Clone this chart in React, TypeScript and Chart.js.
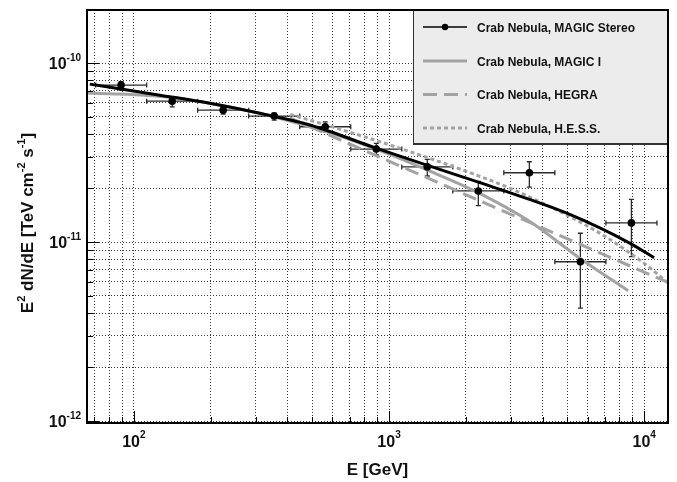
import { useEffect, useRef } from 'react';
import { Chart, registerables } from 'chart.js';

Chart.register(...registerables);

// ---- MAGIC Stereo spectral points (E in GeV, E^2 dN/dE in TeV cm^-2 s^-1)
const stereoE = [89.1, 141.3, 223.9, 354.8, 562.3, 891.3, 1412.5, 2238.7, 3548.1, 5623.4, 8912.5];
const stereoELow = [70.8, 112.2, 177.8, 281.8, 446.7, 707.9, 1122, 1778, 2818, 4467, 7079];
const stereoEHigh = [112.2, 177.8, 281.8, 446.7, 707.9, 1122, 1778, 2818, 4467, 7079, 11220];
const stereoFlux = [7.54e-11, 6.13e-11, 5.46e-11, 5.06e-11, 4.41e-11, 3.31e-11, 2.63e-11, 1.93e-11, 2.44e-11, 7.76e-12, 1.28e-11];
const stereoFluxLow = [7.06e-11, 5.7e-11, 5.19e-11, 4.8e-11, 4.13e-11, 3.08e-11, 2.34e-11, 1.6e-11, 2.03e-11, 4.27e-12, 8.3e-12];
const stereoFluxHigh = [7.87e-11, 6.43e-11, 5.7e-11, 5.27e-11, 4.7e-11, 3.56e-11, 2.9e-11, 2.18e-11, 2.81e-11, 1.12e-11, 1.73e-11];

// ---- Fitted spectra
const stereoFitE = [67.2, 126.5, 198.7, 312, 490, 895, 1406, 2723, 4977, 8810, 10940];
const stereoFitF = [7.63e-11, 6.62e-11, 5.96e-11, 5.24e-11, 4.51e-11, 3.34e-11, 2.69e-11, 1.97e-11, 1.45e-11, 9.84e-12, 8.17e-12];

const magicIE = [65.5, 93.9, 138.4, 217.4, 341, 587, 922, 1409, 2234, 3573, 5610, 8650];
const magicIF = [6.8e-11, 6.7e-11, 6.44e-11, 5.82e-11, 5.08e-11, 4.08e-11, 3.24e-11, 2.53e-11, 1.89e-11, 1.3e-11, 8.1e-12, 5.35e-12];

const hegraE = [409, 1000, 3000, 12400];
const hegraF = [4.94e-11, 2.83e-11, 1.43e-11, 5.95e-12];

const hessE = [410, 600, 1000, 2000, 3000, 5000, 7000, 10000, 12400];
const hessF = [5.17e-11, 4.4e-11, 3.5e-11, 2.49e-11, 1.99e-11, 1.41e-11, 1.08e-11, 7.6e-12, 5.92e-12];

// ---- Axes
const xRange = [65.5, 12400];
const yRange = [0.975e-12, 1.98e-10];
const xMajorTicks = [100, 1000, 10000];
const xMajorExp = ['2', '3', '4'];
const yMajorTicks = [1e-12, 1e-11, 1e-10];
const yMajorExp = ['-12', '-11', '-10'];
const minorFactors = [1, 2, 3, 4, 5, 6, 7, 8, 9];

const legendLabels = ['Crab Nebula, MAGIC Stereo', 'Crab Nebula, MAGIC I', 'Crab Nebula, HEGRA', 'Crab Nebula, H.E.S.S.'];

const FONT = '"Liberation Sans", Arial, Helvetica, sans-serif';
const GRAY = '#a3a3a3';

function logTicks(min: number, max: number) {
  const out: { value: number; major: boolean }[] = [];
  const d0 = Math.floor(Math.log10(min));
  const d1 = Math.ceil(Math.log10(max));
  for (let d = d0; d <= d1; d++) {
    for (const f of minorFactors) {
      const v = Number((f * Math.pow(10, d)).toPrecision(6));
      if (v >= min && v <= max) out.push({ value: v, major: f === 1 });
    }
  }
  return out;
}

function supText(ctx: CanvasRenderingContext2D, parts: [string, boolean][], big: number, small: number) {
  let w = 0;
  for (const [t, sup] of parts) {
    ctx.font = `bold ${sup ? small : big}px ${FONT}`;
    w += ctx.measureText(t).width;
  }
  return w;
}

function drawSup(ctx: CanvasRenderingContext2D, parts: [string, boolean][], x: number, y: number, big: number, small: number, raise: number) {
  let cx = x;
  for (const [t, sup] of parts) {
    ctx.font = `bold ${sup ? small : big}px ${FONT}`;
    ctx.fillText(t, cx, sup ? y - raise : y);
    cx += ctx.measureText(t).width;
  }
}

const rootPlugin = {
  id: 'rootStyle',
  beforeDatasetsDraw(chart: any) {
    const ctx: CanvasRenderingContext2D = chart.ctx;
    const xs = chart.scales.x;
    const ys = chart.scales.y;
    const a = chart.chartArea;
    ctx.save();
    ctx.beginPath();
    ctx.rect(a.left, a.top, a.right - a.left, a.bottom - a.top);
    ctx.clip();
    ctx.strokeStyle = '#2a2a2a';
    ctx.lineWidth = 1.3;
    const cap = 2.5;
    for (let i = 0; i < stereoE.length; i++) {
      const px = xs.getPixelForValue(stereoE[i]);
      const py = ys.getPixelForValue(stereoFlux[i]);
      const xl = xs.getPixelForValue(stereoELow[i]);
      const xh = xs.getPixelForValue(stereoEHigh[i]);
      const yl = ys.getPixelForValue(stereoFluxLow[i]);
      const yh = ys.getPixelForValue(stereoFluxHigh[i]);
      ctx.beginPath();
      ctx.moveTo(xl, py); ctx.lineTo(xh, py);
      ctx.moveTo(xl, py - cap); ctx.lineTo(xl, py + cap);
      ctx.moveTo(xh, py - cap); ctx.lineTo(xh, py + cap);
      ctx.moveTo(px, yl); ctx.lineTo(px, yh);
      ctx.moveTo(px - cap, yl); ctx.lineTo(px + cap, yl);
      ctx.moveTo(px - cap, yh); ctx.lineTo(px + cap, yh);
      ctx.stroke();
    }
    ctx.restore();
  },
  afterDraw(chart: any) {
    const ctx: CanvasRenderingContext2D = chart.ctx;
    const xs = chart.scales.x;
    const ys = chart.scales.y;
    const a = chart.chartArea;
    ctx.save();
    // tick marks inside the frame
    ctx.strokeStyle = '#000';
    ctx.lineWidth = 1;
    ctx.beginPath();
    for (const t of logTicks(xRange[0], xRange[1])) {
      const px = Math.round(xs.getPixelForValue(t.value)) + 0.5;
      ctx.moveTo(px, a.bottom);
      ctx.lineTo(px, a.bottom - (t.major ? 12 : 6));
    }
    for (const t of logTicks(yRange[0], yRange[1])) {
      const py = Math.round(ys.getPixelForValue(t.value)) + 0.5;
      ctx.moveTo(a.left, py);
      ctx.lineTo(a.left + (t.major ? 12 : 6), py);
    }
    ctx.stroke();

    // legend box
    const lx0 = 413, ly0 = a.top, lx1 = a.right, ly1 = 143;
    ctx.fillStyle = '#ececec';
    ctx.fillRect(lx0, ly0, lx1 - lx0, ly1 - ly0);
    ctx.strokeStyle = '#333';
    ctx.lineWidth = 1;
    ctx.strokeRect(lx0 + 0.5, ly0 + 0.5, lx1 - lx0 - 1, ly1 - ly0);
    ctx.lineWidth = 2;
    ctx.beginPath();
    ctx.moveTo(lx0, ly1 + 1);
    ctx.lineTo(lx1, ly1 + 1);
    ctx.stroke();

    const rowY = [27, 61, 94.5, 128];
    const dsIdx = [1, 2, 3, 4];
    for (let i = 0; i < 4; i++) {
      const ds = chart.data.datasets[dsIdx[i]];
      const y = rowY[i];
      ctx.save();
      ctx.strokeStyle = ds.borderColor;
      ctx.lineWidth = i === 0 ? 1.5 : ds.borderWidth;
      ctx.setLineDash(ds.borderDash || []);
      ctx.beginPath();
      ctx.moveTo(423, y);
      ctx.lineTo(467, y);
      ctx.stroke();
      ctx.restore();
      if (i === 0) {
        ctx.fillStyle = '#000';
        ctx.beginPath();
        ctx.arc(445, y, 3.2, 0, Math.PI * 2);
        ctx.fill();
      }
      ctx.fillStyle = '#111';
      ctx.font = `bold 12px ${FONT}`;
      ctx.textAlign = 'left';
      ctx.textBaseline = 'alphabetic';
      ctx.fillText(legendLabels[i], 477, y + 4.5);
    }

    // frame
    ctx.strokeStyle = '#000';
    ctx.lineWidth = 2;
    ctx.strokeRect(a.left, a.top, a.right - a.left, a.bottom - a.top);

    // x tick labels
    ctx.fillStyle = '#111';
    ctx.textAlign = 'left';
    ctx.textBaseline = 'alphabetic';
    xMajorTicks.forEach((v, i) => {
      const px = xs.getPixelForValue(v);
      const parts: [string, boolean][] = [['10', false], [xMajorExp[i], true]];
      const w = supText(ctx, parts, 16, 10);
      drawSup(ctx, parts, px - w / 2, a.bottom + 24, 16, 10, 9);
    });
    // y tick labels
    yMajorTicks.forEach((v, i) => {
      const py = ys.getPixelForValue(v);
      const parts: [string, boolean][] = [['10', false], [yMajorExp[i], true]];
      const w = supText(ctx, parts, 16, 10);
      drawSup(ctx, parts, a.left - 6 - w, py + 6, 16, 10, 8);
    });

    // x title
    {
      const parts: [string, boolean][] = [['E [GeV]', false]];
      const w = supText(ctx, parts, 17, 11);
      drawSup(ctx, parts, (a.left + a.right) / 2 - w / 2, 475, 17, 11, 0);
    }
    // y title
    {
      const parts: [string, boolean][] = [
        ['E', false], ['2', true], [' dN/dE [TeV cm', false], ['-2', true], [' s', false], ['-1', true], [']', false],
      ];
      const w = supText(ctx, parts, 17, 11);
      ctx.save();
      ctx.translate(33, 223);
      ctx.rotate(-Math.PI / 2);
      drawSup(ctx, parts, -w / 2, 0, 17, 11, 8);
      ctx.restore();
    }
    ctx.restore();
  },
};

export default function App() {
  const canvasRef = useRef<HTMLCanvasElement | null>(null);

  useEffect(() => {
    const canvas = canvasRef.current;
    if (!canvas) return;
    const toPts = (xs: number[], ys: number[]) => xs.map((x, i) => ({ x, y: ys[i] }));
    const chart = new Chart(canvas, {
      type: 'scatter',
      data: {
        datasets: [
          {
            label: legendLabels[0] + ' points',
            data: toPts(stereoE, stereoFlux),
            showLine: false,
            pointRadius: 3.8,
            pointBackgroundColor: '#000',
            pointBorderColor: '#000',
            pointBorderWidth: 0,
            borderColor: '#000',
          },
          {
            label: legendLabels[0],
            data: toPts(stereoFitE, stereoFitF),
            showLine: true,
            borderColor: '#000',
            borderWidth: 3,
            pointRadius: 0,
            cubicInterpolationMode: 'monotone',
            fill: false,
          },
          {
            label: legendLabels[1],
            data: toPts(magicIE, magicIF),
            showLine: true,
            borderColor: GRAY,
            borderWidth: 3,
            pointRadius: 0,
            cubicInterpolationMode: 'monotone',
            fill: false,
          },
          {
            label: legendLabels[2],
            data: toPts(hegraE, hegraF),
            showLine: true,
            borderColor: GRAY,
            borderWidth: 3,
            borderDash: [14, 7],
            pointRadius: 0,
            fill: false,
          },
          {
            label: legendLabels[3],
            data: toPts(hessE, hessF),
            showLine: true,
            borderColor: GRAY,
            borderWidth: 3,
            borderDash: [4, 3],
            pointRadius: 0,
            cubicInterpolationMode: 'monotone',
            fill: false,
          },
        ],
      } as any,
      options: {
        responsive: false,
        animation: false,
        devicePixelRatio: 1,
        layout: { padding: { left: 87, top: 10, right: 9, bottom: 59 } },
        plugins: { legend: { display: false }, tooltip: { enabled: false }, title: { display: false } },
        events: [],
        scales: {
          x: {
            type: 'logarithmic',
            min: xRange[0],
            max: xRange[1],
            bounds: 'data',
            ticks: { display: false },
            grid: { color: '#3a3a3a', lineWidth: 1, drawTicks: false },
            border: { display: false, dash: [1, 2] },
            afterBuildTicks: (s: any) => {
              s.ticks = logTicks(xRange[0], xRange[1]).map((t) => ({ value: t.value }));
            },
          },
          y: {
            type: 'logarithmic',
            min: yRange[0],
            max: yRange[1],
            bounds: 'data',
            ticks: { display: false },
            grid: { color: '#3a3a3a', lineWidth: 1, drawTicks: false },
            border: { display: false, dash: [1, 2] },
            afterBuildTicks: (s: any) => {
              s.ticks = logTicks(yRange[0], yRange[1]).map((t) => ({ value: t.value }));
            },
          },
        },
      } as any,
      plugins: [rootPlugin as any],
    });
    return () => chart.destroy();
  }, []);

  return (
    <div style={{ position: 'fixed', left: 0, top: 0, width: 677, height: 482, background: '#fff' }}>
      <canvas ref={canvasRef} width={677} height={482} style={{ width: 677, height: 482, display: 'block' }} />
    </div>
  );
}
